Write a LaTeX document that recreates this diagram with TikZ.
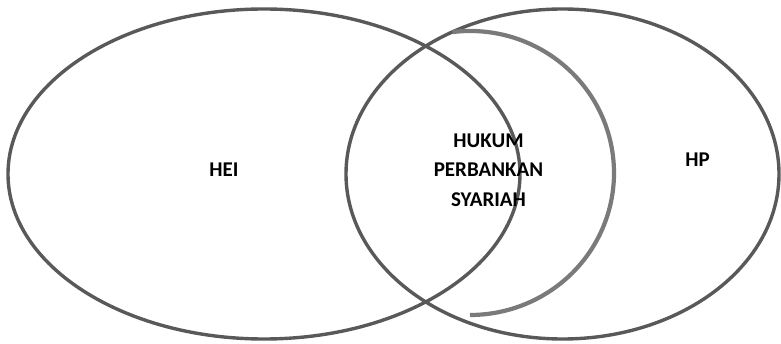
\documentclass[tikz,border=0pt]{standalone}
\usepackage{fontspec}
\setmainfont{Carlito}
\usepackage{tikz}
\usepackage{xcolor}
\usetikzlibrary{positioning}
\definecolor{ringgray}{HTML}{595959}
\definecolor{arcgray}{HTML}{7A7A7A}

\begin{document}
\begin{tikzpicture}[x=1pt, y=1pt,
    ring/.style={draw=ringgray, line width=3.4pt},
    inner/.style={draw=arcgray, line width=4.2pt},
    lbl/.style={font=\bfseries\fontsize{21}{29.3}\selectfont, text=black, inner sep=0pt, align=center}]
    \useasboundingbox (0,0) rectangle (781,343);
    % the two sets
    \draw[ring] (264,169) ellipse[x radius=256, y radius=165];
    \draw[ring] (562.5,169) ellipse[x radius=216.5, y radius=165];
    % inner arc
    \draw[inner] (470,170) ++(97:144 and 142) arc[start angle=97, end angle=-90, x radius=144, y radius=142];
    \node[lbl] (hei) at (224,173) {HEI};
    \node[lbl] (hp) at (697.5,183.5) {HP};
    \node[lbl] (hps) at (488.5,173) {HUKUM\\PERBANKAN\\SYARIAH};
\end{tikzpicture}
\end{document}
